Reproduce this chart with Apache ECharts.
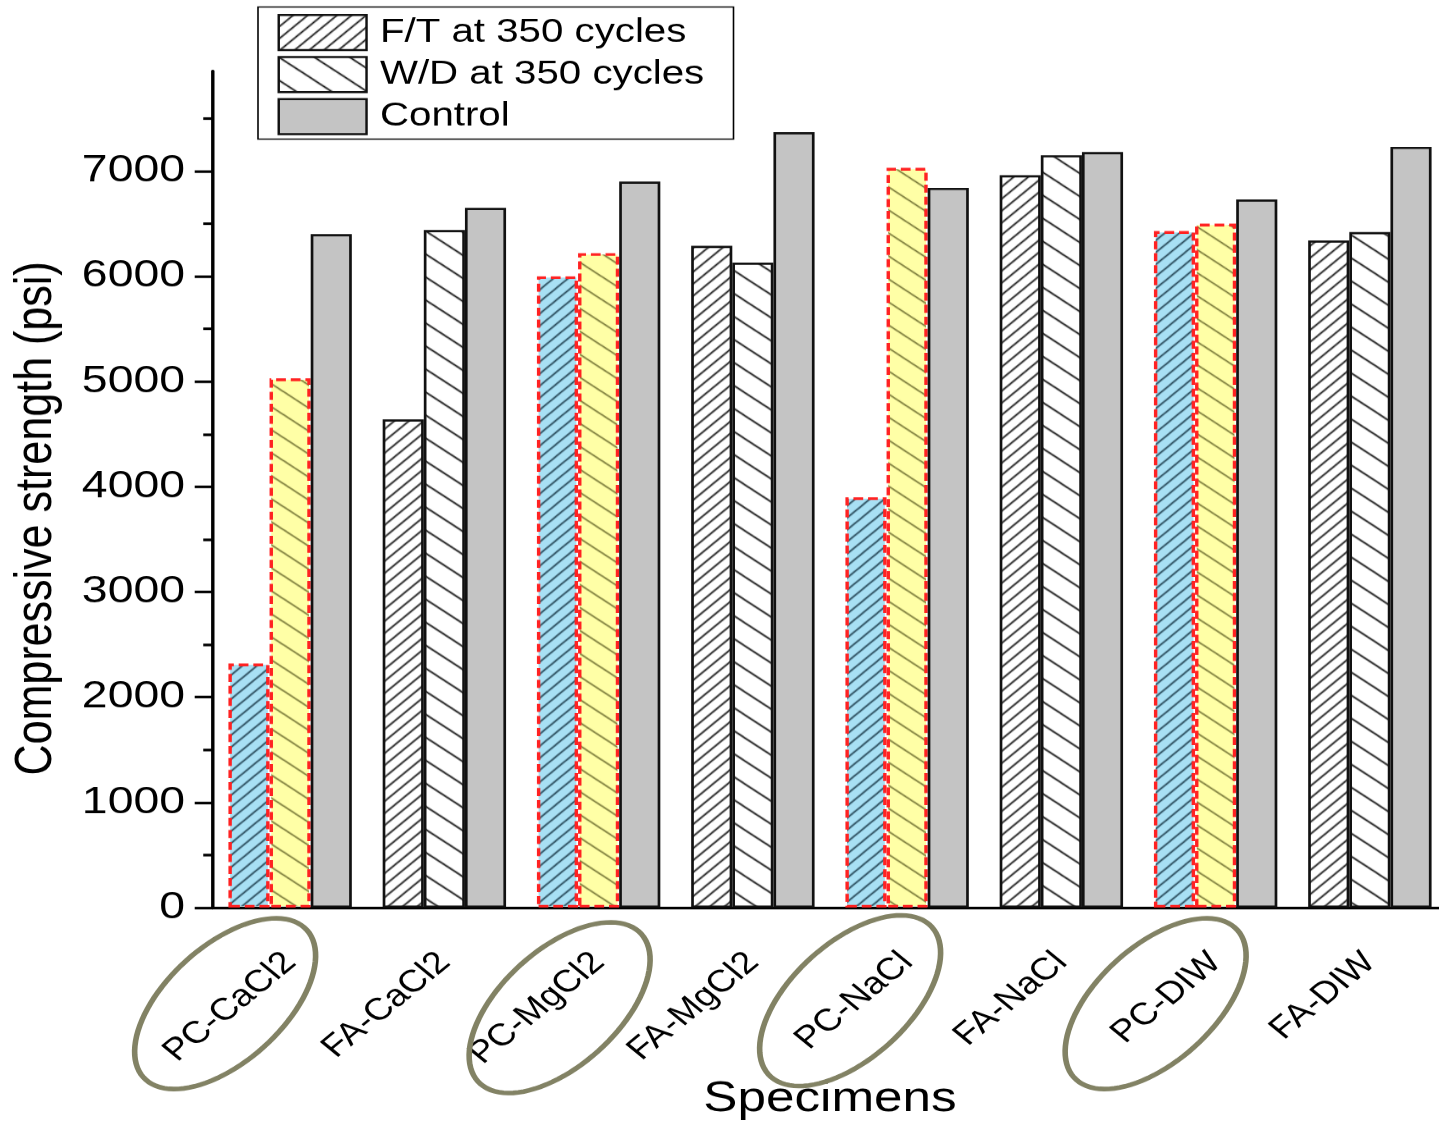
<!DOCTYPE html>
<html><head><meta charset="utf-8">
<script src="https://cdn.jsdelivr.net/npm/echarts@6/dist/echarts.min.js"></script>
<style>
html,body{margin:0;padding:0;background:#fff;overflow:hidden}
#wrap{width:1439px;height:1125px;overflow:hidden;position:relative;background:#fff}
#chart{width:1180px;height:1125px;transform:scaleX(1.21949);transform-origin:0 0}
</style></head><body><div id="wrap"><div id="chart"></div></div>
<script>
// ---- data ----
const categories = ['PC-CaCl2','FA-CaCl2','PC-MgCl2','FA-MgCl2','PC-NaCl','FA-NaCl','PC-DIW','FA-DIW'];
const ftValues = [2320, 4640, 6000, 6290, 3900, 6960, 6430, 6340];
const wdValues = [5030, 6440, 6220, 6130, 7030, 7150, 6500, 6420];
const controlValues = [6400, 6650, 6900, 7370, 6840, 7180, 6730, 7230];
const seriesNames = ['F/T at 350 cycles', 'W/D at 350 cycles', 'Control'];
const yTickValues = [0, 1000, 2000, 3000, 4000, 5000, 6000, 7000];
const yMinorTickValues = [500, 1500, 2500, 3500, 4500, 5500, 6500, 7500];
const highlighted = ['PC-CaCl2', 'PC-MgCl2', 'PC-NaCl', 'PC-DIW'];

// ---- styling ----
const SX = 1439 / 1180;               // horizontal stretch of the reference figure
const FONT = "'Liberation Sans', Arial, sans-serif";

function hatch(bg, lineColor, w, h, dir, lw) {
  const c = document.createElement('canvas');
  c.width = w; c.height = h;
  const g = c.getContext('2d');
  g.fillStyle = bg; g.fillRect(0, 0, w, h);
  g.strokeStyle = lineColor; g.lineWidth = lw;
  for (let k = -1; k <= 1; k++) {
    const x0 = k * w;
    g.beginPath();
    if (dir === '/') { g.moveTo(x0 - 0.2 * w, h * 1.2); g.lineTo(x0 + 1.2 * w, -0.2 * h); }
    else { g.moveTo(x0 - 0.2 * w, -0.2 * h); g.lineTo(x0 + 1.2 * w, h * 1.2); }
    g.stroke();
  }
  return { image: c, repeat: 'repeat' };
}
const patFT = hatch('#ffffff', '#111111', 12, 12, '/', 1.4);
const patWD = hatch('#ffffff', '#111111', 29, 23, '\\', 1.4);
const patFTHi = hatch('#a8e0f4', '#1d3d4c', 12, 12, '/', 1.3);
const patWDHi = hatch('#ffffa6', '#66662a', 29, 23, '\\', 1.3);
const borderBlack = { borderColor: '#111', borderWidth: 2.2 };
const redDash = { borderColor: '#ff2222', borderWidth: 2.8, borderType: [8, 4] };

function buildData(values, hiPattern) {
  return values.map((v, i) => highlighted.includes(categories[i])
    ? { value: v, itemStyle: Object.assign({ color: hiPattern }, redDash) }
    : v);
}

const chart = echarts.init(document.getElementById('chart'), null, { renderer: 'canvas', devicePixelRatio: SX });

const option = {
  animation: false,
  backgroundColor: '#fff',
  textStyle: { fontFamily: FONT, color: '#000' },
  grid: { left: 213 / SX, right: 1180 - 1447 / SX, top: 71, bottom: 218, containLabel: false, outerBoundsMode: 'none' },
  legend: {
    orient: 'vertical', left: 258 / SX, top: 7,
    padding: [7, 24, 4, 16], itemGap: 5, itemWidth: 72, itemHeight: 35,
    borderColor: '#000', borderWidth: 1.3, backgroundColor: '#fff',
    icon: 'rect', selectedMode: false,
    textStyle: { fontSize: 33, lineHeight: 35, color: '#000', fontFamily: FONT, padding: [0, 0, 0, 6] },
    data: seriesNames
  },
  xAxis: [{
    type: 'category', data: categories,
    axisLine: { lineStyle: { color: '#000', width: 2.6 } },
    axisTick: { alignWithLabel: true, length: 15, lineStyle: { color: '#000', width: 2.6 } },
    axisLabel: { rotate: 45, fontSize: 31, margin: 50, color: '#000', interval: 0, fontFamily: FONT },
    name: 'Specimens', nameLocation: 'middle', nameGap: 171,
    nameTextStyle: { fontSize: 42, color: '#000', fontFamily: FONT }
  }, {
    type: 'category', data: categories, position: 'bottom',
    axisLine: { show: false },
    axisTick: { length: 7, lineStyle: { color: '#000', width: 2.6 } },
    axisLabel: { show: false }
  }],
  yAxis: [{
    type: 'value', min: 0, max: 7950, position: 'left',
    axisLine: { show: true, lineStyle: { color: '#000', width: 2.8 } },
    axisTick: { show: true, customValues: yTickValues, length: 15, lineStyle: { color: '#000', width: 2.6 } },
    axisLabel: { customValues: yTickValues, fontSize: 38, margin: 23, color: '#000', fontFamily: FONT,
      formatter: v => String(v) },
    splitLine: { show: false },
    name: 'Compressive strength (psi)', nameLocation: 'middle', nameGap: 123,
    nameTextStyle: { fontSize: 43, color: '#000', fontFamily: FONT, padding: [0, 58, 0, 0] }
  }, {
    type: 'value', min: 0, max: 7950, position: 'left', offset: 0,
    axisLine: { show: false },
    axisTick: { show: true, customValues: yMinorTickValues, length: 8, lineStyle: { color: '#000', width: 2.6 } },
    axisLabel: { show: false },
    splitLine: { show: false }
  }],
  series: [
    { name: seriesNames[0], type: 'bar', barGap: '0%', barCategoryGap: '20%',
      itemStyle: Object.assign({ color: patFT }, borderBlack), data: buildData(ftValues, patFTHi) },
    { name: seriesNames[1], type: 'bar', barGap: '0%', barCategoryGap: '20%',
      itemStyle: Object.assign({ color: patWD }, borderBlack), data: buildData(wdValues, patWDHi) },
    { name: seriesNames[2], type: 'bar', barGap: '0%', barCategoryGap: '20%',
      itemStyle: Object.assign({ color: '#c4c4c4' }, borderBlack), data: controlValues }
  ]
};
chart.setOption(option);

// ---- ellipse annotations around the PC labels (positioned from the axis) ----
const ellipseNotes = [
  { cat: 'PC-CaCl2', dx: -65, dy: 96 },
  { cat: 'PC-MgCl2', dx: -39, dy: 100 },
  { cat: 'PC-NaCl', dx: -57, dy: 93 },
  { cat: 'PC-DIW', dx: -60, dy: 96 }
];
const EA = 110, EB = 58, EPHI = -42 * Math.PI / 180;
const y0 = chart.convertToPixel({ yAxisIndex: 0 }, 0);
const graphics = ellipseNotes.map(n => {
  const cx = chart.convertToPixel({ xAxisIndex: 0 }, n.cat) + n.dx / SX;
  const cy = y0 + n.dy;
  const pts = [];
  for (let i = 0; i < 96; i++) {
    const t = i / 96 * Math.PI * 2;
    const ex = EA * Math.cos(t) * Math.cos(EPHI) - EB * Math.sin(t) * Math.sin(EPHI);
    const ey = EA * Math.cos(t) * Math.sin(EPHI) + EB * Math.sin(t) * Math.cos(EPHI);
    pts.push([cx + ex / SX, cy + ey]);
  }
  return { type: 'polygon', z: 100, shape: { points: pts },
    style: { fill: null, stroke: '#828264', lineWidth: 4.6 }, silent: true };
});
chart.setOption({ graphic: graphics });
</script>
</body></html>
